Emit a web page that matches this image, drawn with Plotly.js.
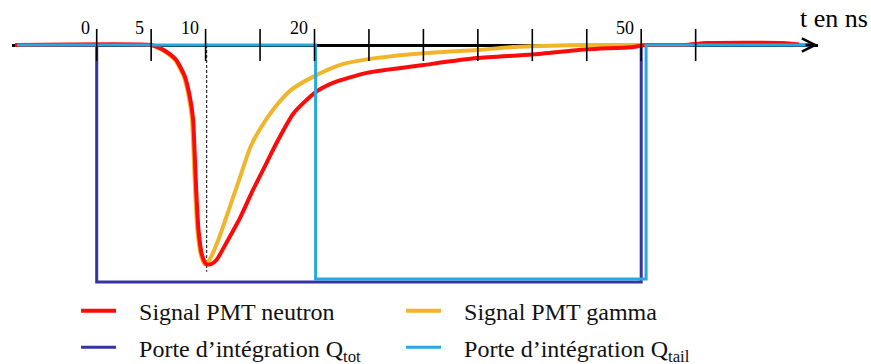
<!DOCTYPE html>
<html>
<head>
<meta charset="utf-8">
<script src="https://cdn.plot.ly/plotly-3.0.1.min.js"></script>
<style>html,body{margin:0;padding:0;background:#fff;}#chart{width:871px;height:364px;}</style>
</head>
<body>
<div id="chart"></div>
<script>
// ---- data (time in ns, amplitude in arbitrary units, 0 = baseline) ----
const tNeutron = [-7.5, 5.0, 5.6, 6.4, 7.3, 8.1, 8.55, 8.85, 9.0, 9.15, 9.35, 9.65, 10.05, 10.5, 11.0, 11.9, 13.15, 14.35, 15.6, 16.4, 18.05, 20.05, 21.7, 24.8, 30.0, 34.9, 40.0, 45.0, 49.0, 50.5, 54.0, 56.0, 63.0, 64.5];
const aNeutron = [0, 0, -1.0, -3.1, -6.9, -14.5, -23.7, -34, -50, -68, -85, -96, -100.5, -100.5, -98.6, -90.8, -79.4, -66.5, -54.1, -46, -31.5, -21.8, -17.4, -12.8, -9.2, -6.0, -4.4, -2.0, -1.0, 0, 0, 0.9, 0.9, 0.2];

const tGamma = [5.0, 5.5, 6.3, 7.2, 8.0, 8.45, 8.75, 8.9, 9.05, 9.25, 9.55, 9.9, 10.3, 11.17, 12.24, 13.2, 14.1, 15.0, 16.3, 17.8, 19.9, 22.3, 24.8, 30.0, 35.0, 38.2, 41.6, 45.0, 50.0];
const aGamma = [0, -1.0, -3.1, -6.9, -14.5, -23.7, -34, -50, -68, -85, -96, -100.5, -99, -89.4, -74, -60, -47, -38.5, -29, -20.8, -14.5, -9.2, -6.6, -3.8, -2.3, -0.9, -0.3, 0, 0];

const tGateTot = [-7.5, 0, 0, 50, 50, 65.5];
const aGateTot = [0, 0, -108.7, -108.7, 0, 0];

const tGateTail = [-7.3, 20.1, 20.1, 50.45, 50.45, 65.6];
const aGateTail = [0, 0, -107.3, -107.3, 0, 0];

const tPeak = [10.1, 10.1];
const aPeak = [0, -104];

const tickVals = [0, 5, 10, 15, 20, 25, 30, 35, 40, 45, 50, 55];
const tickLabelVals = [0, 5, 10, 20, 50];
const tickLabels = ['0', '5', '10', '20', '50'];

const names = {
  neutron: 'Signal PMT neutron',
  gamma: 'Signal PMT gamma',
  tot: 'Porte d’intégration Q<sub>tot</sub>',
  tail: 'Porte d’intégration Q<sub>tail</sub>'
};

// ---- colours / styles ----
const RED = '#FF0A0A', GOLD = '#F0B52A', NAVY = '#3434A2', SKY = '#27A9DF';
const serif = 'Liberation Serif';
const PAD = '\u00A0\u00A0\u00A0';

const traces = [
  {x: tGateTot, y: aGateTot, mode: 'lines', name: PAD + names.tot, legend: 'legend2', legendrank: 1,
   line: {color: NAVY, width: 3}},
  {x: tPeak, y: aPeak, mode: 'lines', showlegend: false, hoverinfo: 'skip',
   line: {color: '#000', width: 1, dash: '3px,2px'}},
  {x: tGamma, y: aGamma, mode: 'lines', name: PAD + names.gamma, legend: 'legend', legendrank: 2,
   line: {color: GOLD, width: 4, shape: 'spline', smoothing: 0.6}},
  {x: tNeutron, y: aNeutron, mode: 'lines', name: PAD + names.neutron, legend: 'legend', legendrank: 1,
   line: {color: RED, width: 4, shape: 'spline', smoothing: 0.6}},
  {x: tGateTail, y: aGateTail, mode: 'lines', name: PAD + names.tail, legend: 'legend2', legendrank: 2,
   line: {color: SKY, width: 3}},
  {x: tickVals, y: tickVals.map(() => 0), mode: 'markers', showlegend: false, hoverinfo: 'skip',
   marker: {symbol: 'line-ns', size: 23, color: '#000', line: {color: '#000', width: 1.6}}}
];

const annotations = tickLabelVals.map((v, i) => ({
  x: v, xref: 'x', y: 0, yref: 'y', text: tickLabels[i], showarrow: false,
  xanchor: 'right', yanchor: 'bottom', xshift: -5, yshift: 5,
  font: {family: serif, size: 18, color: '#000'}
}));
annotations.push({
  x: 1.0199, xref: 'paper', y: 0.948, yref: 'paper', text: 't en ns', showarrow: false,
  xanchor: 'center', yanchor: 'middle', font: {family: serif, size: 26, color: '#000'}
});
annotations.push({
  x: 1, xref: 'paper', y: 0, yref: 'y', ax: -14, ay: 0, text: '', showarrow: true,
  arrowhead: 5, arrowsize: 1, arrowwidth: 2.6, arrowcolor: '#000'
});

const legendBase = {
  orientation: 'h', xref: 'container', yref: 'container', xanchor: 'left', yanchor: 'middle',
  entrywidth: 275, entrywidthmode: 'pixels', bgcolor: 'rgba(0,0,0,0)', borderwidth: 0,
  traceorder: 'normal', itemwidth: 35,
  font: {family: serif, size: 24, color: '#111'}
};

const layout = {
  width: 871, height: 364,
  font: {family: serif, color: '#111'},
  margin: {l: 12, r: 53, t: 0, b: 0, autoexpand: false},
  paper_bgcolor: '#fff', plot_bgcolor: '#fff',
  showlegend: true,
  xaxis: {range: [-7.778, 66.235], anchor: 'free', position: 0.87637, showline: true,
          linecolor: '#000', linewidth: 3, ticks: '', showticklabels: false, showgrid: false,
          zeroline: false, layer: 'below traces', fixedrange: true},
  yaxis: {range: [-146.33, 20.64], visible: false, showgrid: false, zeroline: false, fixedrange: true},
  legend: Object.assign({}, legendBase, {x: 0.0873, y: 0.145}),
  legend2: Object.assign({}, legendBase, {x: 0.0873, y: 0.045}),
  annotations: annotations
};

Plotly.newPlot('chart', traces, layout, {displayModeBar: false, staticPlot: true});
</script>
</body>
</html>
